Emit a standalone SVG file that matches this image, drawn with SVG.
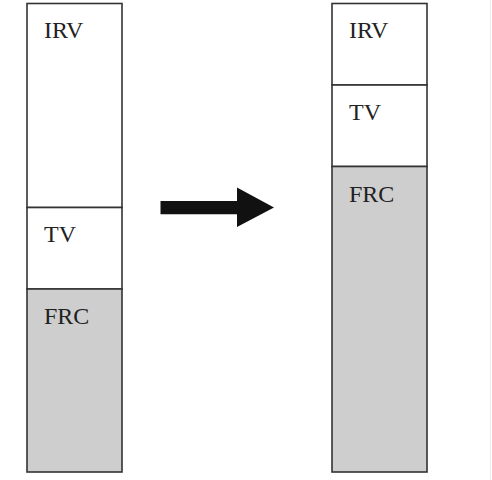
<svg xmlns="http://www.w3.org/2000/svg" width="492" height="480" viewBox="0 0 492 480">
<style>
.box{stroke:#333;stroke-width:1.6}
.w{fill:#fff}
.g{fill:#cecece}
text{font-family:"Liberation Serif","Times New Roman",serif;font-size:24px;fill:#222}
</style>
<rect width="492" height="480" fill="#fff"/>
<line x1="490.5" y1="0" x2="490.5" y2="480" stroke="#ececec" stroke-width="1"/>
<g id="left-irv"><rect class="box w" x="27" y="3.5" width="95" height="204"/><text x="44" y="38">IRV</text></g>
<g id="left-tv"><rect class="box w" x="27" y="207.5" width="95" height="81.5"/><text x="44" y="242">TV</text></g>
<g id="left-frc"><rect class="box g" x="27" y="289" width="95" height="183"/><text x="44" y="323.5">FRC</text></g>
<g id="right-irv"><rect class="box w" x="332" y="3.5" width="95" height="81.5"/><text x="349" y="38">IRV</text></g>
<g id="right-tv"><rect class="box w" x="332" y="85" width="95" height="81.5"/><text x="349" y="119.5">TV</text></g>
<g id="right-frc"><rect class="box g" x="332" y="166.5" width="95" height="305.5"/><text x="349" y="201.5">FRC</text></g>
<g id="connectors"><polygon points="160.5,201 237,201 237,187.5 274,207.5 237,227 237,214.3 160.5,214.3" fill="#111"/></g>
</svg>
